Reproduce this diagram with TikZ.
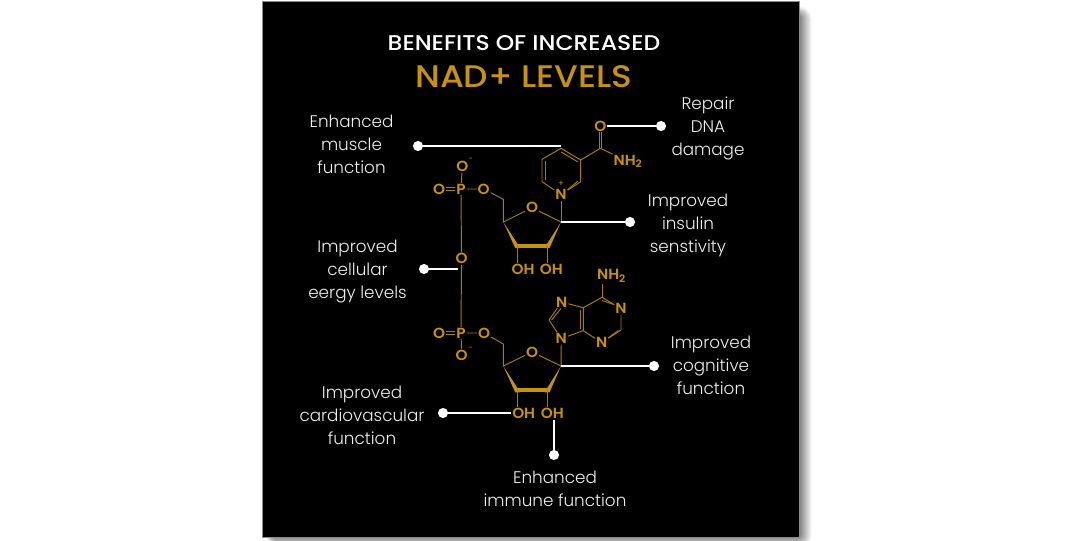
\documentclass[tikz,border=0pt]{standalone}
\usepackage{fontspec}
\usetikzlibrary{calc}
\setmainfont{Poppins}
\newfontfamily\pmed{Poppins Medium}[FakeStretch=1.1]
\newfontfamily\psemi{Poppins SemiBold}[FakeStretch=1.04]
\newfontfamily\plight{Poppins Light}
\definecolor{gold}{HTML}{C8920F}
\definecolor{bondc}{HTML}{A87C12}
\definecolor{labelc}{HTML}{EFEFEF}
\tikzset{
  px/.style={x=0.75pt,y=-0.75pt},
  atom/.style={text=gold,font=\fontsize{11pt}{12pt}\selectfont\psemi,inner sep=0.6pt},
  bond/.style={draw=bondc,line width=0.72pt},
  wedge/.style={fill=gold,draw=none},
  heavy/.style={draw=gold,line width=2.8pt},
  lead/.style={draw=white,line width=2pt},
  dot/.style={circle,fill=white,draw=none,minimum size=7.6pt,inner sep=0pt},
  lab/.style={text=labelc,align=center,font=\fontsize{12.6pt}{17.25pt}\selectfont\plight,inner sep=0pt},
}
\begin{document}
\begin{tikzpicture}[px]
\useasboundingbox (0,0) rectangle (1080,540);
\fill[white] (0,0) rectangle (1080,540);
% shadow
\clip (0,0) rectangle (1080,540);
\foreach \i in {14,13,...,0}{
  \pgfmathtruncatemacro{\g}{4*(14-\i)}
  \fill[black!\g!white,rounded corners=\i*0.75pt] (274-\i*0.6,17-\i*0.8) rectangle (798.5+\i,535+\i);
}
% card
\draw[draw=black!45,line width=0.6pt,fill=black] (262.7,1.7) rectangle (799.5,537.7);
% title
\node[text=white,font=\fontsize{16pt}{18pt}\selectfont\pmed] (t1) at (524,43.5) {BENEFITS OF INCREASED};
\node[text=gold,font=\fontsize{23.4pt}{26pt}\selectfont\pmed] (t2) at (524,76.5) {NAD+ LEVELS};
% ---- top nucleotide atoms
\coordinate (r1) at (561,148.3);
\coordinate (r2) at (580.7,160);
\coordinate (r3) at (580.7,181.7);
\coordinate (r5) at (542,181.7);
\coordinate (r6) at (542,159.3);
\node[atom] (n1) at (561,194.5) {N};
\node[atom,font=\fontsize{6.5pt}{7pt}\selectfont] (nplus) at (561,183.5) {+};
\coordinate (am) at (600.3,148.3);
\node[atom] (oa) at (600.3,126) {O};
\node[atom,anchor=west] (nh2a) at (612.5,161.5) {NH\textsubscript{2}};
\node[atom] (os1) at (532,207.7) {O};
\coordinate (c1) at (561,222);
\coordinate (c2) at (547,246);
\coordinate (c3) at (517.7,246);
\coordinate (c4) at (503.3,222);
\coordinate (c5) at (503.3,199.3);
\node[atom] (ob1) at (483.7,189) {O};
\node[atom] (p1) at (461,189) {P};
\node[atom] (ol1) at (439,189) {O};
\node[atom] (ot1) at (462.3,166.3) {O};
\node[atom,font=\fontsize{6pt}{7pt}\selectfont] (m1) at (470.5,159.5) {−};
\node[atom] (om) at (461.5,258.7) {O};
\node[atom] (oh1) at (523,269.5) {OH};
\node[atom] (oh2) at (551.3,269.5) {OH};
% ---- bottom nucleotide atoms
\node[atom] (p2) at (461,333) {P};
\node[atom] (ol2) at (439,333) {O};
\node[atom] (ob2) at (484,333) {O};
\node[atom] (ot2) at (461.7,355) {O};
\node[atom,font=\fontsize{6pt}{7pt}\selectfont] (m2) at (470.5,349) {−};
\coordinate (d5) at (503.3,344);
\coordinate (d4) at (503.3,366);
\node[atom] (os2) at (532,352) {O};
\coordinate (d1) at (561,366);
\coordinate (d2) at (547,390.3);
\coordinate (d3) at (517.7,390.3);
\node[atom] (oh3) at (523.7,413.7) {OH};
\node[atom] (oh4) at (552.3,413.7) {OH};
\node[atom] (n9) at (561.3,338.5) {N};
\coordinate (a4) at (583.3,330.7);
\coordinate (a5) at (583.3,307.7);
\coordinate (a6) at (602,297.3);
\node[atom] (n1a) at (621,308.7) {N};
\coordinate (a2) at (621,330);
\node[atom] (n3) at (601.7,342.7) {N};
\node[atom] (n7) at (561.7,302) {N};
\coordinate (a8) at (549,320);
\node[atom,anchor=west] (nh2b) at (596,276) {NH\textsubscript{2}};
% ---- bonds top
\draw[bond] (r1)--(r2)--(r3)--(n1)--(r5)--(r6)--(r1);
\draw[bond] ($(r1)+(0,3.6)$)--($(r2)+(-2.8,1.9)$);
\draw[bond] ($(r3)+(-2.8,-0.6)$)--($(n1.north east)+(-0.2,1.5)$);
\draw[bond] ($(r5)+(3,-2)$)--($(r6)+(3,2)$);
\draw[bond] (r2)--(am)--(nh2a.north west);
\draw[bond] ($(am)+(-1.1,0)$)--($(oa.south)+(-1.1,0)$);
\draw[bond] ($(am)+(1.1,0)$)--($(oa.south)+(1.1,0)$);
\draw[bond] (n1)--(c1);
\draw[bond] (c1)--(os1)--(c4)--(c5)--(ob1)--(p1);
\draw[bond] (p1)--(ot1);
\draw[bond] (p1)--(om);
\draw[bond] ($(p1.west)+(0,-1.2)$)--($(ol1.east)+(0,-1.2)$);
\draw[bond] ($(p1.west)+(0,1.2)$)--($(ol1.east)+(0,1.2)$);
\fill[wedge] (c4)--(515.2,248)--(520.2,248)--cycle;
\fill[wedge] (c1)--(544.5,248)--(549.5,248)--cycle;
\draw[heavy] (515.5,246)--(549,246);
\draw[bond] (c3)--(oh1.north -| c3);
\draw[bond] (c2)--(oh2.north -| c2);
% ---- bonds bottom
\draw[bond] (om)--(p2);
\draw[bond] (p2)--(ot2);
\draw[bond] (p2)--(ob2)--(d5)--(d4)--(os2)--(d1);
\draw[bond] ($(p2.west)+(0,-1.2)$)--($(ol2.east)+(0,-1.2)$);
\draw[bond] ($(p2.west)+(0,1.2)$)--($(ol2.east)+(0,1.2)$);
\fill[wedge] (d4)--(515.2,392.3)--(520.2,392.3)--cycle;
\fill[wedge] (d1)--(544.5,392.3)--(549.5,392.3)--cycle;
\draw[heavy] (515.5,390.3)--(549,390.3);
\draw[bond] (d3)--(oh3.north -| d3);
\draw[bond] (d2)--(oh4.north -| d2);
\draw[bond] (n9)--(d1);
% adenine
\draw[bond] (n9)--(a4)--(a5)--(a6)--(n1a)--(a2)--(n3)--(a4);
\draw[bond] (a5)--(n7)--(a8)--(n9);
\draw[bond] (a6)--(nh2b.south -| a6);
\draw[bond] ($(a4)+(-2.8,-2)$)--($(a5)+(-2.8,2)$);
\draw[bond] ($(a6)+(0.2,3.2)$)--($(n1a.north west)+(-1,1.8)$);
\draw[bond] ($(a2)+(-2.6,0.6)$)--($(n3.north east)+(0,1.2)$);
\draw[bond] ($(a8)+(2.6,0)$)--($(n7.south)+(-0.8,0.4)$);
% ---- leaders
\coordinate (e1) at (561,146);
\node[dot] (d-muscle) at (418,146) {};
\draw[lead] (d-muscle)--(e1);
\node[dot] (d-repair) at (661,126) {};
\draw[lead] (oa)--(d-repair);
\node[dot] (d-insulin) at (630,222) {};
\draw[lead] (c1)--(d-insulin);
\node[dot] (d-energy) at (424,269) {};
\coordinate (e2) at (458,269);
\draw[lead] (d-energy)--(e2);
\node[dot] (d-cog) at (654,366) {};
\draw[lead] (d1)--(d-cog);
\node[dot] (d-card) at (443,413) {};
\draw[lead] (d-card)--(d-card -| oh3.west);
\node[dot] (d-imm) at (554,455) {};
\coordinate (e3) at (554,419.5);
\draw[lead] (e3)--(d-imm);
% ---- labels
\node[lab] (l1) at (351.5,144.5) {Enhanced\\muscle\\function};
\node[lab] (l2) at (708,128.5) {Repair\\DNA\\damage};
\node[lab] (l3) at (688,225.5) {Improved\\insulin\\senstivity};
\node[lab] (l4) at (357.5,271.5) {Improved\\cellular\\eergy levels};
\node[lab] (l5) at (711,365) {Improved\\cognitive\\function};
\node[lab] (l6) at (362,415) {Improved\\cardiovascular\\function};
\node[lab] (l7) at (555,488.5) {Enhanced\\immune function};
\end{tikzpicture}
\end{document}
